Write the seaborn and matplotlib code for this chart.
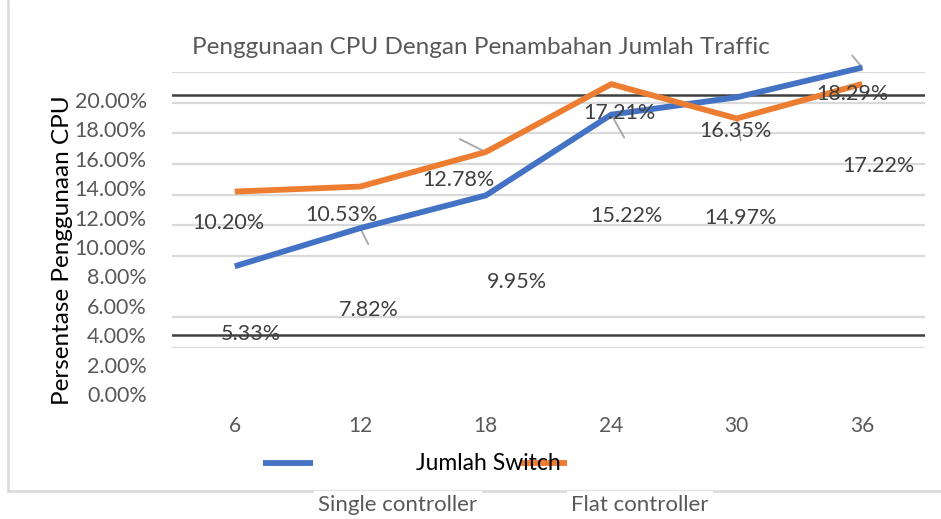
import matplotlib
matplotlib.use('Agg')
import matplotlib.pyplot as plt
import seaborn as sns
import pandas as pd
import numpy as np
from matplotlib.lines import Line2D

# data
switches = ['6', '12', '18', '24', '30', '36']
single_controller = [5.33, 7.82, 9.95, 15.22, 16.35, 18.29]
flat_controller = [10.20, 10.53, 12.78, 17.21, 14.97, 17.22]
series_names = ['Single controller', 'Flat controller']
y_ticks = list(range(0, 21, 2))

W, H = 941, 519
BLUE, ORANGE = '#4472C4', '#ED7D31'
GRAY_TXT = '#595959'
GRID = '#D9D9D9'

sns.set_theme(style='white')
plt.rcParams['font.family'] = ['Lato', 'DejaVu Sans']

df = pd.DataFrame({
    'Switch': switches * 2,
    'CPU': single_controller + flat_controller,
    'Series': [series_names[0]] * 6 + [series_names[1]] * 6,
})

fig = plt.figure(figsize=(W / 100, H / 100), dpi=100)
fig.patch.set_facecolor('white')

def fx(px):
    return px / W

def fy(py):
    return 1 - py / H

# main plot area (gridlines + lines)
ax = fig.add_axes([fx(172), fy(348), 753 / W, 276 / H])
sns.lineplot(data=df, x='Switch', y='CPU', hue='Series', palette=[BLUE, ORANGE],
             linewidth=4.2, ax=ax, legend=False, sort=False)
for ln in ax.lines:
    ln.set_clip_on(False)
    ln.set_solid_capstyle('butt')
    ln.set_zorder(4)

ax.set_xlim(-0.5, 5.5)
ax.set_ylim(0, 18)
ax.set_yticks([0, 2, 6, 8, 10, 12, 14, 16, 18])
ax.set_yticklabels([])
ax.grid(axis='y', color=GRID, linewidth=1.6)
ax.set_axisbelow(True)
for s in ax.spines.values():
    s.set_visible(False)
ax.tick_params(axis='x', length=0, pad=49, labelsize=15, labelcolor=GRAY_TXT)
ax.tick_params(axis='y', length=0)
ax.set_xlabel('')
ax.set_ylabel('')

# stray dark lines across the plot
for yv in (16.5, 0.85):
    ax.axhline(yv, color='#404040', linewidth=1.8, zorder=3)

# data labels (offset from their points like the reference)
single_off = [(16, -68), (9, -82), (31, -87), (15, -101), (-1, -34), (-10, -26)]
flat_off = [(-6, -31), (-19, -28), (-27, -28), (8, -29), (4, -100), (16, -82)]
for vals, offs in ((single_controller, single_off), (flat_controller, flat_off)):
    for i, (v, off) in enumerate(zip(vals, offs)):
        ax.annotate(f'{v:.2f}%', (i, v), xytext=off, textcoords='offset pixels',
                    ha='center', va='center', fontsize=15.5, color='#404040', zorder=5,
                    annotation_clip=False)

# leader lines
leaders = [(0, 1, (8, -16)), (1, 2, (-26, 13)), (0, 3, (13, -23)),
           (1, 4, (4, -22)), (0, 5, (-10, 12))]
for si, i, off in leaders:
    vals = single_controller if si == 0 else flat_controller
    ax.annotate('', (i, vals[i]), xytext=off, textcoords='offset pixels',
                arrowprops=dict(arrowstyle='-', color='#A6A6A6', lw=1.3,
                                shrinkA=0, shrinkB=0), annotation_clip=False)

# y tick labels (misaligned scale like the reference)
tax = fig.add_axes([fx(155), fy(394), 770 / W, 294 / H])
tax.patch.set_visible(False)
tax.set_ylim(0, 20)
tax.set_yticks(y_ticks)
tax.set_yticklabels([f'{t:.2f}%' for t in y_ticks])
tax.set_xticks([])
tax.tick_params(axis='y', length=0, pad=6, labelsize=15.5, labelcolor=GRAY_TXT)
for s in tax.spines.values():
    s.set_visible(False)

# titles
fig.text(fx(481), fy(48), 'Penggunaan CPU Dengan Penambahan Jumlah Traffic',
         ha='center', va='center', fontsize=17.5, color=GRAY_TXT)
fig.text(fx(63), fy(250), 'Persentase Penggunaan CPU', rotation=90,
         ha='center', va='center', fontsize=17.5, color='black')

# legend keys and texts
fig.add_artist(Line2D([fx(263), fx(313)], [fy(463), fy(463)], color=BLUE,
                      linewidth=4.2, solid_capstyle='butt'))
fig.add_artist(Line2D([fx(520), fx(567)], [fy(463), fy(463)], color=ORANGE,
                      linewidth=4.2, solid_capstyle='butt'))
fig.text(fx(488), fy(463), 'Jumlah Switch', ha='center', va='center',
         fontsize=16.5, color='black')

# outer frame remains
fig.add_artist(Line2D([fx(8), fx(8)], [fy(0), fy(491)], color=GRID, linewidth=1.8))
fig.add_artist(Line2D([fx(8), fx(941)], [fy(491), fy(491)], color=GRID, linewidth=1.8))

for name, cx in zip(series_names, (398, 640)):
    fig.text(fx(cx), fy(505), name, ha='center', va='center', fontsize=16,
             color=GRAY_TXT, bbox=dict(facecolor='white', edgecolor='none', pad=3))

fig.savefig('out.png', dpi=100)
